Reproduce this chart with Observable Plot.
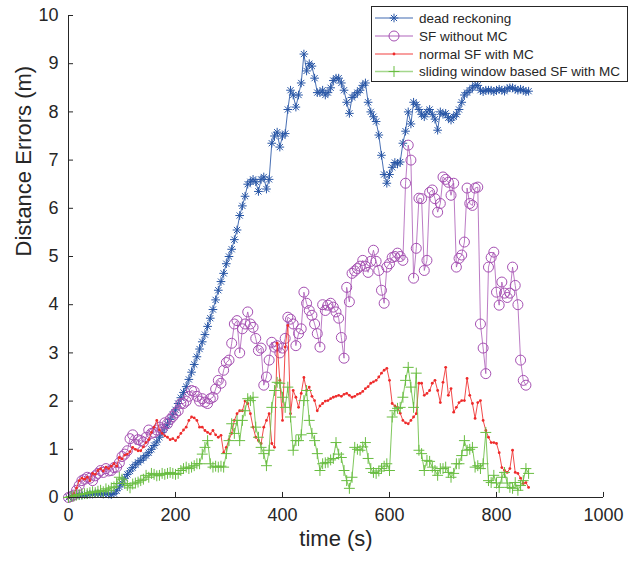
<!DOCTYPE html>
<html><head><meta charset="utf-8">
<script src="https://cdn.jsdelivr.net/npm/d3@7"></script>
<script src="https://cdn.jsdelivr.net/npm/@observablehq/plot@0.6"></script>
<style>body{margin:0;background:#fff} svg{display:block}</style>
</head><body><div id="chart"></div>
<script>
// time grid (s), sampled every 5 s
const timeStep = 5;

// dead reckoning (m), t = 0 .. 860
const deadReckoning = [
0,0.02,0.03,0.04,0.05,0.05,0.06,0.06,0.07,0.07,0.08,0.08,0.08,0.07,0.08,0.07,0.06,0.08,0.14,0.22,
0.3,0.4,0.48,0.55,0.62,0.68,0.73,0.77,0.82,0.87,0.93,1.0,1.08,1.15,1.25,1.35,1.45,1.52,1.62,1.72,
1.82,1.95,2.07,2.18,2.3,2.45,2.6,2.76,2.92,3.08,3.23,3.38,3.55,3.72,3.9,4.1,4.3,4.48,4.65,4.85,
5.0,5.15,5.35,5.55,5.85,6.05,6.25,6.5,6.55,6.6,6.55,6.35,6.6,6.65,6.4,6.6,7.35,7.5,7.58,7.27,
7.5,7.55,8.05,8.45,8.35,8.1,8.35,8.6,9.2,8.85,9.0,8.95,8.7,8.4,8.4,8.45,8.35,8.4,8.5,8.65,
8.7,8.7,8.6,8.45,8.2,7.97,8.3,8.35,8.4,8.45,8.55,8.6,8.2,8.0,7.9,7.8,7.52,7.1,6.7,6.52,
6.7,6.85,6.95,6.92,6.96,7.35,7.6,8.0,7.75,8.2,8.15,8.05,7.95,7.9,8.0,8.05,7.95,7.85,7.62,8.0,
7.95,7.97,7.88,7.83,7.9,7.95,8.05,8.2,8.35,8.4,8.45,8.5,8.55,8.55,8.45,8.42,8.45,8.45,8.45,8.42,
8.45,8.47,8.45,8.43,8.48,8.5,8.5,8.47,8.45,8.47,8.45,8.42,8.43
];

// SF without MC (m), t = 0 .. 855
const sfWithoutMC = [
0,0.02,0.05,0.15,0.25,0.35,0.38,0.42,0.4,0.35,0.45,0.5,0.56,0.52,0.6,0.55,0.56,0.62,0.63,0.72,
0.85,0.9,0.97,1.22,1.3,1.1,1.2,1.18,1.15,1.25,1.4,1.33,1.35,1.4,1.46,1.42,1.55,1.53,1.62,1.68,
1.75,1.8,1.95,1.95,2.0,2.1,2.22,2.2,2.1,2.0,2.05,1.98,1.95,2.05,2.08,2.25,2.43,2.37,2.64,2.8,
2.85,3.2,3.6,3.67,3.0,3.5,3.6,3.85,3.6,3.53,3.3,3.05,3.1,2.33,2.5,2.85,3.22,3.12,3.15,3.0,
3.1,3.3,3.74,3.7,3.6,3.15,3.4,3.5,4.26,4.03,3.88,3.78,3.6,3.4,3.12,4.0,3.88,3.99,4.03,3.95,
3.85,3.72,3.32,2.89,4.36,4.06,4.65,4.7,4.75,4.8,4.92,4.8,4.67,4.9,5.13,4.9,4.71,4.3,4.03,4.78,
4.85,4.98,5.0,5.07,5.0,4.92,6.52,7.31,7.0,4.55,5.17,6.21,6.2,4.71,4.92,6.33,6.38,6.2,5.92,6.1,
6.65,6.6,6.54,6.27,6.52,4.78,4.96,5.03,5.3,6.42,6.1,6.06,6.42,6.44,3.6,3.1,2.57,4.78,4.98,5.09,
4.26,3.99,4.47,4.24,4.15,4.24,4.78,4.4,4.0,2.85,2.43,2.33
];

// normal SF with MC (m), t = 0 .. 860
const normalSF = [
0,0.02,0.08,0.2,0.35,0.4,0.38,0.42,0.35,0.5,0.48,0.56,0.6,0.55,0.63,0.6,0.65,0.7,0.65,0.83,
0.8,0.88,0.9,0.95,1.04,1.0,0.97,0.97,1.05,1.14,1.2,1.35,1.46,1.6,1.4,1.33,1.28,1.25,1.2,1.22,
1.18,1.25,1.33,1.4,1.46,1.6,1.67,1.65,1.6,1.46,1.46,1.39,1.35,1.32,1.39,1.3,1.25,1.29,0.93,1.04,
1.2,1.33,1.6,1.74,1.8,1.8,2.0,1.95,1.74,1.46,1.25,1.18,1.12,1.46,1.6,1.74,1.12,1.04,3.2,2.43,
1.6,3.12,3.57,1.74,2.22,2.08,1.87,2.16,2.49,2.22,2.29,2.1,2.01,1.8,1.9,1.95,2.0,2.01,2.05,2.08,
2.1,2.12,2.1,2.14,2.16,2.12,2.08,2.1,2.14,2.16,2.2,2.26,2.3,2.37,2.4,2.43,2.5,2.58,2.64,2.68,
2.43,1.95,1.9,1.87,1.75,1.6,1.55,1.53,1.6,1.67,1.74,2.37,2.37,2.12,2.16,2.22,2.37,2.43,2.22,1.97,
2.39,2.7,2.12,2.26,1.77,1.87,1.97,2.01,2.01,2.47,2.12,1.95,1.64,1.97,2.01,1.6,1.39,1.25,1.14,1.14,
1.12,0.93,0.62,0.56,0.52,0.6,0.98,0.52,0.5,0.4,0.29,0.31,0.21
];

// sliding window based SF with MC (m), t = 0 .. 860
const slidingSF = [
0,0.02,0.03,0.05,0.06,0.07,0.08,0.08,0.1,0.12,0.1,0.13,0.15,0.12,0.18,0.15,0.2,0.22,0.29,0.42,
0.38,0.29,0.25,0.2,0.28,0.3,0.32,0.35,0.38,0.46,0.42,0.5,0.48,0.45,0.46,0.5,0.48,0.5,0.52,0.5,
0.48,0.5,0.56,0.6,0.63,0.6,0.63,0.66,0.7,0.7,0.9,1.04,1.18,0.7,0.63,0.65,0.63,0.65,0.63,0.91,
1.18,1.53,1.33,1.6,1.18,1.6,1.8,2.05,2.01,2.08,1.46,1.25,1.04,0.91,0.66,0.98,1.87,2.22,2.39,2.37,
2.08,1.87,2.29,1.67,0.98,1.18,1.18,1.3,2.01,2.22,1.6,1.33,1.18,0.91,0.56,0.7,0.72,0.73,0.78,0.81,
1.14,0.9,0.83,0.56,0.35,0.19,0.42,1.04,1.0,0.98,1.05,1.14,0.81,0.6,0.52,0.5,0.55,0.6,0.65,0.7,
0.56,1.67,1.8,1.85,1.87,2.08,2.43,2.7,2.29,1.87,2.58,0.98,0.91,0.56,0.77,0.75,0.63,0.56,0.46,0.6,
0.6,0.63,0.52,0.42,0.5,0.7,0.7,0.87,1.18,0.98,1.0,1.04,0.63,0.66,0.6,0.7,1.35,0.35,0.31,0.46,
0.3,0.21,0.42,0.52,0.3,0.21,0.19,0.31,0.15,0.25,0.35,0.6,0.5
];

const xTicks = [0, 200, 400, 600, 800, 1000];
const yTicks = [0, 1, 2, 3, 4, 5, 6, 7, 8, 9, 10];
const seriesLabels = ["dead reckoning", "SF without MC", "normal SF with MC", "sliding window based SF with MC"];
const colors = ["#2856a6", "#a550b2", "#ee2a2a", "#68bd40"];

const toRows = arr => arr.map((v, i) => ({t: i * timeStep, v}));
const dr = toRows(deadReckoning), sw = toRows(sfWithoutMC), ns = toRows(normalSF), sl = toRows(slidingSF);

const font = "'Liberation Sans', Arial, Helvetica, sans-serif";
const axisColor = "#262626";

// marker sizes (Plot r -> symbol area pi*r^2)
const starR = 2.9, circleR = 5, dotR = 1.4, plusR = 3.6;

const plot = Plot.plot({
  width: 636, height: 563,
  marginLeft: 68, marginRight: 33, marginTop: 15, marginBottom: 66,
  style: {fontFamily: font, background: "#fff", overflow: "visible"},
  x: {domain: [0, 1000]},
  y: {domain: [0, 10]},
  marks: [
    Plot.line(dr, {x: "t", y: "v", stroke: colors[0], strokeWidth: 1, strokeOpacity: 0.85}),
    Plot.dot(dr, {x: "t", y: "v", symbol: "plus", r: starR, stroke: colors[0], strokeWidth: 1}),
    Plot.dot(dr, {x: "t", y: "v", symbol: "times", r: starR, stroke: colors[0], strokeWidth: 1}),
    Plot.line(sw, {x: "t", y: "v", stroke: colors[1], strokeWidth: 1, strokeOpacity: 0.75}),
    Plot.dot(sw, {x: "t", y: "v", symbol: "circle", r: circleR, stroke: colors[1], fill: "none", strokeWidth: 1}),
    Plot.line(ns, {x: "t", y: "v", stroke: colors[2], strokeWidth: 1, strokeOpacity: 0.85}),
    Plot.dot(ns, {x: "t", y: "v", r: dotR, fill: colors[2], stroke: "none"}),
    Plot.line(sl, {x: "t", y: "v", stroke: colors[3], strokeWidth: 1, strokeOpacity: 0.85}),
    Plot.dot(sl, {x: "t", y: "v", symbol: "plus", r: plusR, stroke: colors[3], strokeWidth: 1}),
    // axis lines
    Plot.ruleY([0], {stroke: axisColor, strokeWidth: 1}),
    Plot.ruleX([0], {stroke: axisColor, strokeWidth: 1}),
    // inward ticks
    Plot.ruleX(xTicks, {x: d => d, y1: 0, y2: 0.105, stroke: axisColor}),
    Plot.ruleY(yTicks, {y: d => d, x1: 0, x2: 9.4, stroke: axisColor}),
    // tick labels
    Plot.axisX(xTicks, {tickSize: 0, tickPadding: 11, fontSize: 18, fill: axisColor, label: null, tickFormat: d => String(d)}),
    Plot.axisY(yTicks, {tickSize: 0, tickPadding: 10, fontSize: 18, fill: axisColor, label: null, tickFormat: d => String(d)}),
    // axis titles
    Plot.text(["time (s)"], {frameAnchor: "bottom", dy: 48, fontSize: 22, fill: axisColor}),
    Plot.text(["Distance Errors (m)"], {frameAnchor: "left", dx: -45, rotate: -90, fontSize: 22, fill: axisColor})
  ]
});

document.getElementById("chart").appendChild(plot);

// legend box, drawn over the plot like MATLAB's legend
const svg = d3.select(plot);
const lg = svg.append("g").attr("font-family", font).attr("text-anchor", "start");
lg.append("rect").attr("x", 371.5).attr("y", 6.5).attr("width", 256).attr("height", 75)
  .attr("fill", "#fff").attr("stroke", axisColor).attr("stroke-width", 1);
const rowY = [18, 36, 54, 71.5];
const sym = (type, r) => d3.symbol(type, Math.PI * r * r)();
seriesLabels.forEach((label, i) => {
  const y = rowY[i];
  lg.append("line").attr("x1", 375).attr("x2", 413).attr("y1", y).attr("y2", y)
    .attr("stroke", colors[i]).attr("stroke-width", 1.5).attr("stroke-opacity", 0.6);
  const g = lg.append("g").attr("transform", `translate(394,${y})`);
  if (i === 0) {
    g.append("path").attr("d", sym(d3.symbolPlus, starR)).attr("stroke", colors[0]).attr("fill", "none");
    g.append("path").attr("d", sym(d3.symbolTimes, starR)).attr("stroke", colors[0]).attr("fill", "none");
  } else if (i === 1) {
    g.append("circle").attr("r", circleR).attr("stroke", colors[1]).attr("fill", "none");
  } else if (i === 2) {
    g.append("circle").attr("r", dotR).attr("fill", colors[2]);
  } else {
    g.append("path").attr("d", sym(d3.symbolPlus, plusR)).attr("stroke", colors[3]).attr("fill", "none");
  }
  lg.append("text").attr("x", 419).attr("y", y).attr("dy", "0.35em")
    .attr("font-size", 13.5).attr("fill", axisColor).attr("text-anchor", "start").text(label);
});
</script>
</body></html>
